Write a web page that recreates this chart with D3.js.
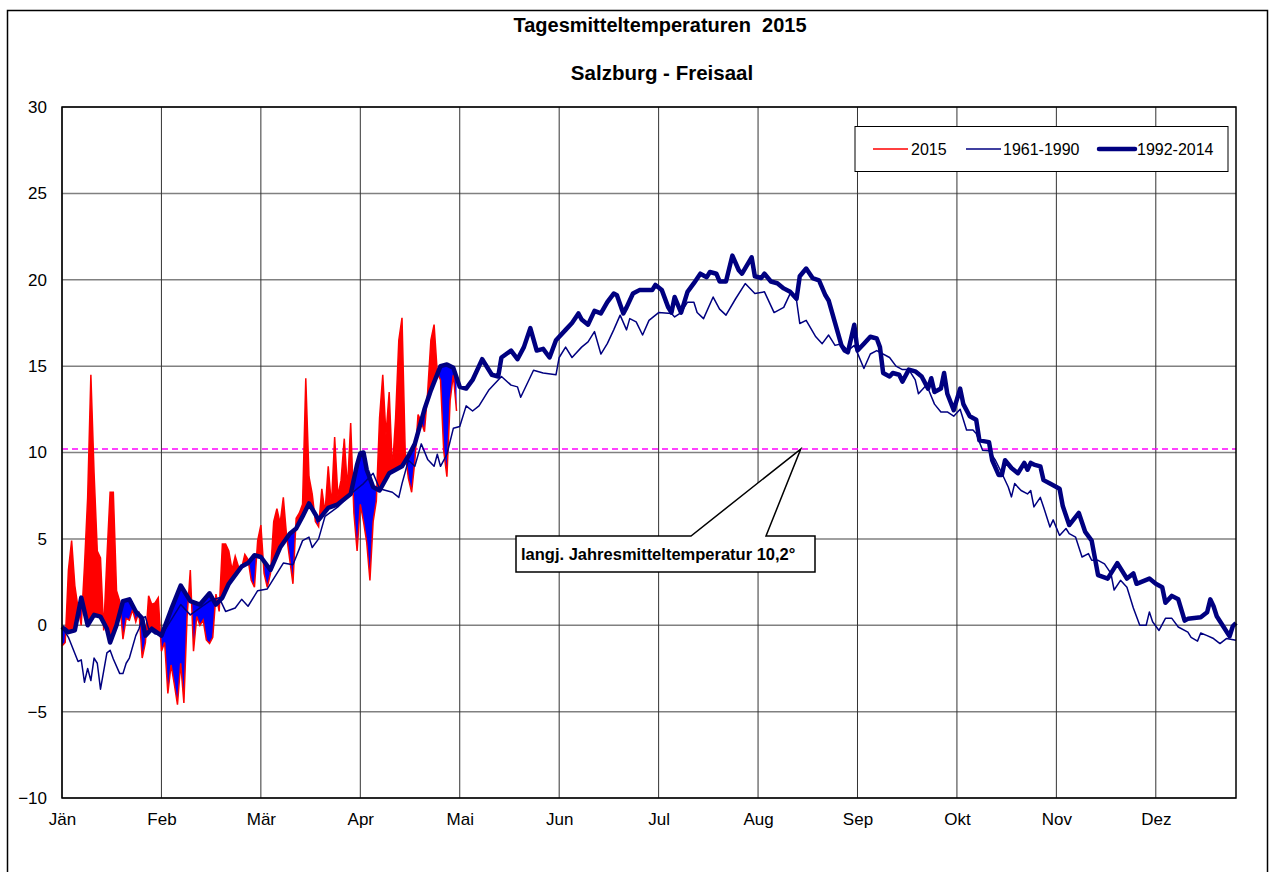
<!DOCTYPE html>
<html>
<head>
<meta charset="utf-8">
<script src="https://cdn.jsdelivr.net/npm/d3@7/dist/d3.min.js"></script>
<style>
  body { margin: 0; background: #fff; }
  svg text { font-family: "Liberation Sans", Arial, sans-serif; }
</style>
</head>
<body>
<div id="chart"></div>
<script>
// month labels, one tick every 31 days
const months = ["Jän", "Feb", "Mär", "Apr", "Mai", "Jun", "Jul", "Aug", "Sep", "Okt", "Nov", "Dez"];
const yTicks = [-10, -5, 0, 5, 10, 15, 20, 25, 30];
const meanLine = 10.2;

// 1992-2014 mean (day of year, °C)
const dayNew = [0,2,4,6,8,10,12,14,15,17,19,21,23,25,26,28,31,34,37,40,43,46,48,50,52,56,58,60,62,65,68,71,73,75,77,80,83,86,90,92,93,94,95,97,99,102,106,108,110,113,115,118,120,122,124,126,128,131,134,136,137,140,142,144,146,148,150,152,154,157,159,161,162,164,166,168,170,172,173,175,176,178,180,184,185,187,189,190,191,193,195,197,199,201,202,204,205,207,209,211,212,215,216,218,219,221,223,225,227,229,230,232,234,236,238,239,241,243,244,245,247,248,250,252,254,255,256,258,259,261,262,264,266,268,270,271,272,274,275,276,278,280,281,283,285,286,289,290,292,293,294,296,298,300,301,302,303,305,306,308,311,312,314,317,319,321,323,326,329,332,334,335,339,341,343,344,346,348,350,351,355,357,358,359,360,362,364,365,366];
const tempNew = [-0.1,-0.4,-0.3,1.6,0.0,0.6,0.5,-0.2,-1.0,0.0,1.4,1.5,0.8,0.4,-0.6,-0.2,-0.6,0.9,2.3,1.4,1.2,1.85,1.2,1.6,2.4,3.4,3.6,4.05,3.95,3.2,4.5,5.3,5.6,6.3,7.05,6.1,6.8,7.0,7.6,9.3,9.95,10.0,9.0,8.0,7.8,8.8,9.2,9.8,10.5,12.5,13.6,15.0,15.1,14.9,13.8,13.7,14.2,15.4,14.5,14.4,15.5,15.9,15.4,16.1,17.2,15.9,16.0,15.5,16.5,17.1,17.5,18.05,17.7,17.4,18.2,18.05,18.7,19.2,19.1,18.05,18.4,19.2,19.4,19.4,19.7,19.4,18.4,18.1,19.0,18.1,19.3,19.8,20.35,20.15,20.45,20.35,19.9,19.9,21.4,20.55,20.35,21.3,20.2,20.1,20.35,19.9,19.8,19.5,19.3,18.9,20.2,20.65,20.1,19.97,19.1,18.8,17.5,16.2,15.9,15.8,17.4,15.9,16.3,16.7,16.6,16.1,14.6,14.4,14.6,14.5,14.1,14.8,14.7,14.4,13.7,14.3,13.5,13.7,14.6,13.4,12.45,13.7,12.8,12.1,11.9,10.7,10.6,9.55,8.7,8.7,9.55,9.1,8.8,9.4,9.0,9.4,9.3,9.2,8.4,8.2,7.9,6.9,5.8,6.5,5.4,4.9,2.9,2.7,3.6,2.7,3.0,2.4,2.7,2.4,2.2,1.3,1.7,1.5,0.27,0.37,0.46,0.75,1.5,1.1,0.52,-0.06,-0.64,-0.06,0.13];

// 1961-1990 mean
const dayOld = [0,2,5,6,7,8,9,10,11,12,14,15,16,18,19,20,21,23,24,25,26,27,29,31,34,37,40,43,46,49,51,54,56,58,61,64,69,72,75,77,78,80,82,86,90,94,97,99,103,105,106,108,110,112,114,116,117,118,120,122,124,126,128,130,133,137,140,142,143,147,150,154,155,157,159,162,164,166,168,170,172,174,176,177,179,181,183,186,190,191,193,195,197,198,200,203,205,207,210,213,216,219,222,225,227,229,230,232,235,237,239,241,243,245,247,250,252,254,258,260,262,264,266,267,269,270,272,274,276,278,280,282,284,285,287,289,291,293,295,296,297,299,301,302,303,305,306,308,309,311,313,314,316,318,320,321,323,325,327,328,330,332,334,336,338,339,340,342,344,346,348,351,352,354,355,357,359,361,363,366];
const tempOld = [-0.1,-0.7,-2.1,-2.0,-3.3,-2.5,-3.2,-1.9,-2.2,-3.7,-1.6,-1.45,-1.95,-2.8,-2.8,-2.2,-1.9,-0.6,-0.2,0.4,0.5,-0.2,-0.5,-0.6,0.3,1.2,0.6,1.0,1.4,1.6,0.8,1.0,1.5,1.1,2.0,2.1,3.6,3.5,4.9,5.1,4.5,5.0,6.3,6.85,7.6,8.2,8.8,7.9,7.7,7.4,8.2,9.55,9.2,10.5,9.6,9.2,9.9,9.2,9.9,11.4,11.5,12.7,12.4,12.7,13.6,14.4,13.9,13.8,13.2,14.76,14.6,14.5,15.5,16.1,15.5,16.1,16.4,17.0,15.7,16.3,17.1,17.95,17.1,17.75,17.56,16.8,17.65,18.1,18.05,17.85,18.1,18.7,18.7,18.1,17.75,19.0,18.3,17.95,18.9,19.78,19.2,19.3,18.1,18.4,19.2,18.8,17.47,17.65,16.7,16.3,16.8,16.2,16.3,15.9,16.2,14.86,15.7,15.9,15.5,15.0,14.8,14.8,14.2,13.4,13.8,13.7,12.8,12.35,12.35,12.1,12.5,11.3,11.3,11.1,10.13,10.1,9.55,8.8,8.0,7.43,8.2,7.8,7.6,7.8,6.85,7.4,6.85,5.69,6.1,5.2,5.6,5.3,5.1,3.95,4.15,3.76,3.76,3.55,3.0,2.04,2.6,2.2,1.0,0.0,0.0,0.77,0.2,-0.3,0.4,0.4,-0.1,-0.4,-0.7,-0.92,-0.45,-0.6,-0.77,-1.06,-0.77,-0.87];

// 2015 daily values, day 0 .. 123
const temp2015 = [-1.2,-1.0,3.2,4.9,2.3,1.0,0.0,3.4,7.4,14.5,8.8,4.3,3.9,-0.3,3.9,7.7,7.7,2.0,1.4,-0.8,0.4,0.3,0.9,0.2,0.8,-1.9,-1.0,1.7,1.2,1.3,1.6,-1.5,-1.0,-3.95,-2.3,-3.4,-4.6,-2.2,-4.5,0.5,3.2,-1.5,0.5,0.0,0.3,-0.85,-1.05,-0.7,1.8,0.8,4.7,4.7,4.3,3.2,4.0,3.4,3.3,4.1,3.8,2.6,2.2,4.9,5.8,3.0,2.2,3.0,6.0,6.75,5.9,7.4,5.2,3.8,2.4,6.2,6.5,7.0,14.3,8.6,7.6,6.0,5.7,7.9,6.5,9.2,6.9,10.9,7.5,8.4,10.8,7.9,11.7,6.5,4.3,7.0,6.0,4.8,2.6,6.0,7.2,12.0,14.5,11.0,13.5,9.0,12.0,16.5,17.8,10.0,8.5,7.7,9.5,12.2,11.8,11.2,13.5,16.5,17.4,14.6,14.2,10.1,8.6,13.0,14.5,12.4];

const W = 1271, H = 872;
const plotLeft = 62, plotRight = 1236, plotTop = 107, plotBottom = 798;

const svg = d3.select("#chart").append("svg")
  .attr("width", W)
  .attr("height", H);

// outer frame
svg.append("rect")
  .attr("x", 7.5).attr("y", 10.5)
  .attr("width", 1260).attr("height", 900)
  .attr("fill", "none").attr("stroke", "#000").attr("stroke-width", 1.5);

const x = d3.scaleLinear().domain([0, 366]).range([plotLeft, plotRight]);
const y = d3.scaleLinear().domain([-10, 30]).range([plotBottom, plotTop]);

const newData = dayNew.map((d, i) => ({ day: d, v: tempNew[i] }));
const oldData = dayOld.map((d, i) => ({ day: d, v: tempOld[i] }));
const data2015 = temp2015.map((v, i) => ({ day: i, v: v }));

// grid
svg.append("g")
  .selectAll("line")
  .data(yTicks)
  .enter().append("line")
  .attr("x1", plotLeft).attr("x2", plotRight)
  .attr("y1", d => y(d)).attr("y2", d => y(d))
  .attr("stroke", "#808080").attr("stroke-width", 1.5);

svg.append("g")
  .selectAll("line")
  .data(months)
  .enter().append("line")
  .attr("x1", (d, i) => x(i * 31)).attr("x2", (d, i) => x(i * 31))
  .attr("y1", plotTop).attr("y2", plotBottom)
  .attr("stroke", "#333").attr("stroke-width", 1);

// long-term annual mean
svg.append("line")
  .attr("x1", plotLeft).attr("x2", plotRight)
  .attr("y1", y(meanLine)).attr("y2", y(meanLine))
  .attr("stroke", "#ff00ff").attr("stroke-width", 1.5)
  .attr("stroke-dasharray", "6,4");

// clip regions above / below the 1992-2014 line
const defs = svg.append("defs");
defs.append("clipPath").attr("id", "above")
  .append("path")
  .attr("d", d3.area().x(d => x(d.day)).y0(plotTop).y1(d => y(d.v))(newData));
defs.append("clipPath").attr("id", "below")
  .append("path")
  .attr("d", d3.area().x(d => x(d.day)).y0(plotBottom).y1(d => y(d.v))(newData));

svg.append("path")
  .attr("d", d3.area().x(d => x(d.day)).y0(plotBottom).y1(d => y(d.v))(data2015))
  .attr("clip-path", "url(#above)")
  .attr("fill", "#ff0000");

svg.append("path")
  .attr("d", d3.area().x(d => x(d.day)).y0(plotTop).y1(d => y(d.v))(data2015))
  .attr("clip-path", "url(#below)")
  .attr("fill", "#0000ff");

const line = d3.line().x(d => x(d.day)).y(d => y(d.v));

svg.append("path")
  .datum(data2015)
  .attr("d", line)
  .attr("fill", "none").attr("stroke", "#ff0000").attr("stroke-width", 1.5);

svg.append("path")
  .datum(oldData)
  .attr("d", line)
  .attr("fill", "none").attr("stroke", "#000080").attr("stroke-width", 1.5)
  .attr("stroke-linejoin", "round");

svg.append("path")
  .datum(newData)
  .attr("d", line)
  .attr("fill", "none").attr("stroke", "#000080").attr("stroke-width", 4.5)
  .attr("stroke-linejoin", "round");

// plot border
svg.append("rect")
  .attr("x", plotLeft).attr("y", plotTop)
  .attr("width", plotRight - plotLeft).attr("height", plotBottom - plotTop)
  .attr("fill", "none").attr("stroke", "#000").attr("stroke-width", 1.5);

// axes labels
const yAxis = d3.axisLeft(y).tickValues(yTicks).tickSize(0).tickPadding(15);
const gy = svg.append("g").attr("transform", `translate(${plotLeft},0)`).call(yAxis);
gy.select(".domain").remove();
gy.selectAll("text").attr("font-size", 17).attr("fill", "#000")
  .style("font-family", "'Liberation Sans', Arial, sans-serif");

const xAxis = d3.axisBottom(x)
  .tickValues(months.map((m, i) => i * 31))
  .tickFormat((d, i) => months[i])
  .tickSize(0).tickPadding(15);
const gx = svg.append("g").attr("transform", `translate(0,${plotBottom})`).call(xAxis);
gx.select(".domain").remove();
gx.selectAll("text").attr("font-size", 17).attr("fill", "#000")
  .style("font-family", "'Liberation Sans', Arial, sans-serif");

// titles
svg.append("text")
  .attr("x", 660).attr("y", 32)
  .attr("text-anchor", "middle")
  .attr("font-size", 20).attr("font-weight", "bold")
  .attr("xml:space", "preserve")
  .text("Tagesmitteltemperaturen  2015");

svg.append("text")
  .attr("x", 662).attr("y", 80)
  .attr("text-anchor", "middle")
  .attr("font-size", 20.5).attr("font-weight", "bold")
  .text("Salzburg - Freisaal");

// legend
const legend = svg.append("g");
legend.append("rect")
  .attr("x", 855).attr("y", 126.5)
  .attr("width", 373).attr("height", 45)
  .attr("fill", "#fff").attr("stroke", "#000").attr("stroke-width", 1);

const legendItems = [
  { label: "2015", color: "#ff0000", width: 1.5, x1: 873, x2: 908, tx: 911 },
  { label: "1961-1990", color: "#000080", width: 1.5, x1: 966, x2: 1001, tx: 1003 },
  { label: "1992-2014", color: "#000080", width: 4.5, x1: 1099, x2: 1135, tx: 1137 }
];
legendItems.forEach(it => {
  legend.append("line")
    .attr("x1", it.x1).attr("x2", it.x2)
    .attr("y1", 149).attr("y2", 149)
    .attr("stroke", it.color).attr("stroke-width", it.width)
    .attr("stroke-linecap", it.width > 2 ? "round" : "butt");
  legend.append("text")
    .attr("x", it.tx).attr("y", 155)
    .attr("font-size", 16)
    .text(it.label);
});

// callout for annual mean
const tipX = x(230.3), tipY = y(meanLine);
const callout = [[516, 536], [691, 536], [tipX, tipY], [766, 536], [815, 536], [815, 572], [516, 572]];
svg.append("path")
  .attr("d", d3.line()(callout) + "Z")
  .attr("fill", "#fff").attr("stroke", "#000").attr("stroke-width", 1.5)
  .attr("stroke-linejoin", "miter");

svg.append("text")
  .attr("x", 521).attr("y", 560)
  .attr("font-size", 16.5).attr("font-weight", "bold")
  .text("langj. Jahresmitteltemperatur 10,2°");
</script>
</body>
</html>
